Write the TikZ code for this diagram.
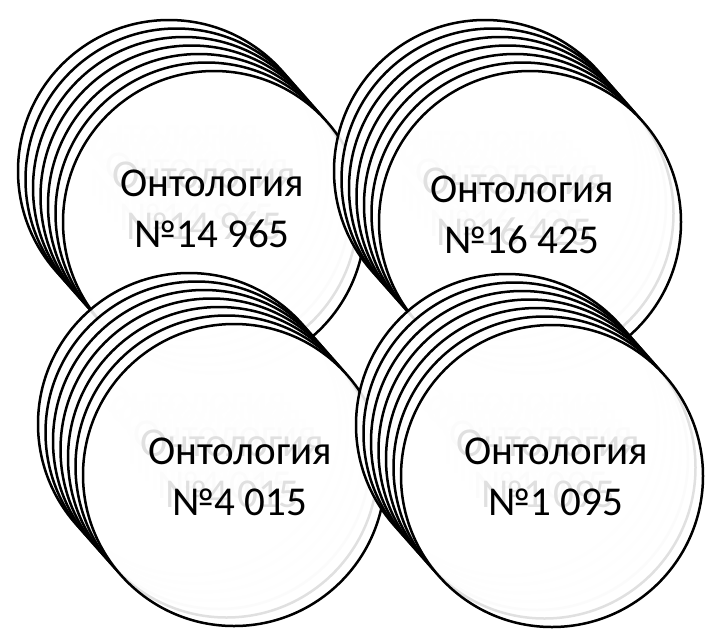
\documentclass[tikz,border=0pt]{standalone}
\usepackage{fontspec}
\setmainfont{Carlito}
\begin{document}
\begin{tikzpicture}[x=1pt, y=-1pt,
    disc/.style={circle, draw=black, line width=2.5pt, fill=white, fill opacity=0.88, draw opacity=1, minimum size=302pt, inner sep=0pt},
    ontlabel/.style={font=\fontsize{41}{51}\selectfont, align=center, inner sep=0pt}
]
\useasboundingbox (0,0) rectangle (707,633);
% top left stack
\foreach \k in {6,...,0}{
  \node[disc] (tl\k) at (214-7.5*\k, 222-8.5*\k) {};
  \node[ontlabel] (tltext\k) at ([shift={(-2,-13)}]tl\k.center) {Онтология\\№14 965};
}
% top right stack
\foreach \k in {6,...,0}{
  \node[disc] (tr\k) at (530-7.5*\k, 222-8.5*\k) {};
  \node[ontlabel] (trtext\k) at ([shift={(-8,-7)}]tr\k.center) {Онтология\\№16 425};
}
% bottom left stack
\foreach \k in {6,...,0}{
  \node[disc] (bl\k) at (234-7.5*\k, 475-8.5*\k) {};
  \node[ontlabel] (bltext\k) at ([shift={(6,2)}]bl\k.center) {Онтология\\№4 015};
}
% bottom right stack
\foreach \k in {6,...,0}{
  \node[disc] (br\k) at (552-7.5*\k, 476-8.5*\k) {};
  \node[ontlabel] (brtext\k) at ([shift={(4,1)}]br\k.center) {Онтология\\№1 095};
}
\end{tikzpicture}
\end{document}
